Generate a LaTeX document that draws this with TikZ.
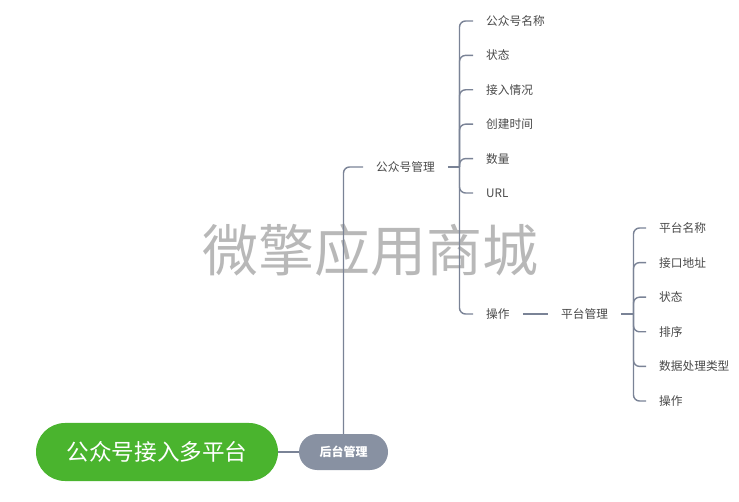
\documentclass[tikz,border=0pt]{standalone}
\usepackage{fontspec}
\setmainfont{Noto Sans CJK SC}
\usetikzlibrary{positioning}
\definecolor{rootgreen}{RGB}{74,180,46}
\definecolor{hubgray}{RGB}{136,145,162}
\definecolor{linkgray}{RGB}{122,131,150}
\definecolor{labelgray}{RGB}{72,72,72}
\tikzset{
  topic/.style = {inner xsep=13pt, inner ysep=2pt, anchor=west,
                  text=labelgray, font=\fontsize{11.7}{14}\selectfont},
  link/.style  = {draw=linkgray, line width=1.4pt, rounded corners=6pt}
}

\begin{document}
\begin{tikzpicture}[x=1pt,y=-1pt]
  \useasboundingbox (0,0) rectangle (739,502);
  % watermark
  \node[text=black!28, font=\fontsize{56}{60}\selectfont] (mark) at (370,250) {微擎应用商城};
  % root and hub
  \node[fill=rootgreen, text=white, rounded corners=29pt,
        minimum width=242pt, minimum height=58pt,
        font=\fontsize{22.6}{26}\selectfont] (root) at (157,452) {公众号接入多平台};
  \node[fill=hubgray, text=white, rounded corners=18pt,
        minimum width=89pt, minimum height=36pt,
        font=\fontsize{12}{14}\selectfont\bfseries] (hub) at (343.5,452) {后台管理};
  \draw[link] (root) -- (hub);
  % account management
  \node[topic] (gzh) at (363,167) {公众号管理};
  \draw[link] (hub.north) |- (gzh.west);
  \coordinate (ja) at (459.5,167);
  \draw[link] (gzh.east) -- (ja);
  \foreach \txt [count=\i] in {公众号名称,状态,接入情况,创建时间,数量,URL}
    \node[topic] (a\i) at (473,21+34.4*\i-34.4) {\txt};
  \node[topic] (a7) at (473,314) {操作};
  \foreach \i in {1,...,7}
    \draw[link] (ja) |- (a\i.west);
  % platform management
  \node[topic] (ptm) at (548,314) {平台管理};
  \draw[link] (a7) -- (ptm);
  \coordinate (jb) at (633.5,314);
  \draw[link] (ptm.east) -- (jb);
  \foreach \txt [count=\i] in {平台名称,接口地址,状态,排序,数据处理类型,操作}
    \node[topic] (b\i) at (646,228+34.6*\i-34.6) {\txt};
  \foreach \i in {1,...,6}
    \draw[link] (jb) |- (b\i.west);
\end{tikzpicture}
\end{document}
